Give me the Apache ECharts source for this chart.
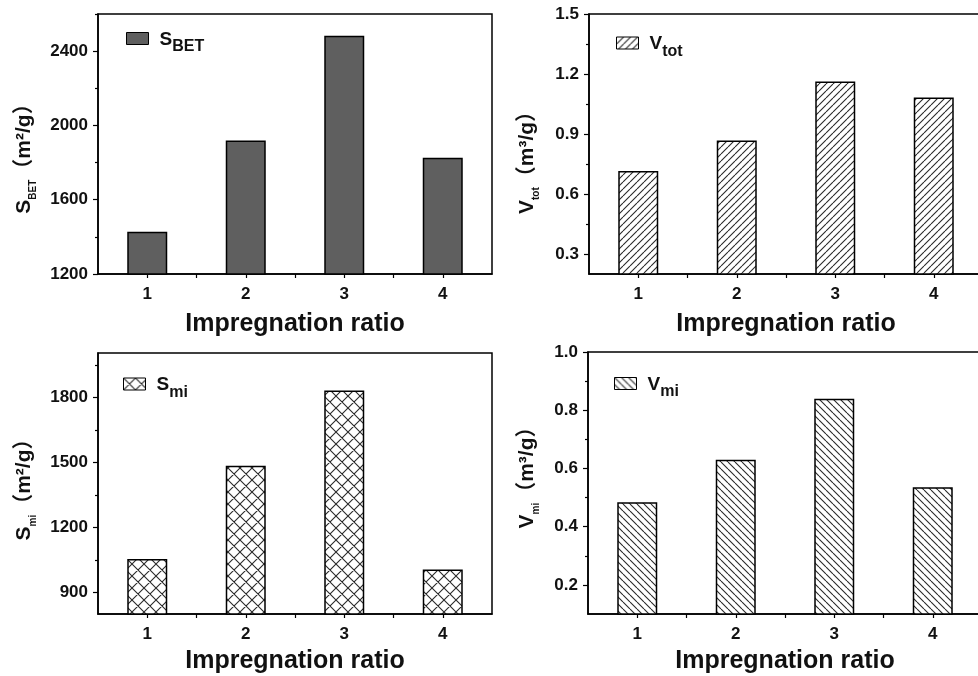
<!DOCTYPE html>
<html>
<head>
<meta charset="utf-8">
<script src="https://cdn.jsdelivr.net/npm/echarts@6/dist/echarts.min.js"></script>
<style>
  html, body { margin: 0; padding: 0; background: #fff; }
  #chart { width: 978px; height: 676px; }
</style>
</head>
<body>
<div id="chart"></div>
<script>
// impregnation ratios
const ratios = [1, 2, 3, 4];
const sBet = [1428, 1919, 2483, 1826];
const vTot = [0.715, 0.867, 1.163, 1.082];
const sMi = [1054, 1485, 1832, 1005];
const vMi = [0.484, 0.630, 0.839, 0.535];

const yLabels1 = [1200, 1600, 2000, 2400];
const yMinor1 = [1400, 1800, 2200, 2600];
const yLabels2 = [0.3, 0.6, 0.9, 1.2, 1.5];
const yMinor2 = [0.45, 0.75, 1.05, 1.35];
const yLabels3 = [900, 1200, 1500, 1800];
const yMinor3 = [1050, 1350, 1650, 1950];
const yLabels4 = [0.2, 0.4, 0.6, 0.8, 1.0];
const yMinor4 = [0.3, 0.5, 0.7, 0.9];

const FONT = '"Liberation Sans", Arial, "Noto Sans CJK SC", sans-serif';

// hatch fills
function makePattern(kind, size) {
  const c = document.createElement('canvas');
  c.width = size; c.height = size;
  const ctx = c.getContext('2d');
  ctx.fillStyle = '#fff';
  ctx.fillRect(0, 0, size, size);
  ctx.strokeStyle = '#2a2a2a';
  ctx.lineWidth = 1.1;
  ctx.beginPath();
  for (let k = -1; k <= 1; k++) {
    if (kind === '/' || kind === 'x') {
      ctx.moveTo(k * size, size);
      ctx.lineTo(k * size + size, 0);
    }
    if (kind === '\\' || kind === 'x') {
      ctx.moveTo(k * size, 0);
      ctx.lineTo(k * size + size, size);
    }
  }
  ctx.stroke();
  return { image: c, repeat: 'repeat' };
}

const grids = [
  { left: 98, top: 14, width: 394, height: 260 },
  { left: 589, top: 14, width: 394, height: 260 },
  { left: 98, top: 353, width: 394, height: 261 },
  { left: 588, top: 352, width: 394, height: 262 }
];

const panels = [
  { name: 'S_BET', main: 'S', sub: 'BET', unit: '（m²/g）', data: sBet, min: 1200, max: 2600, dec: 0,
    labels: yLabels1, minor: yMinor1, fill: '#5f5f5f', nameGap: 60, shift: 19 },
  { name: 'V_tot', main: 'V', sub: 'tot', unit: '（m³/g）', data: vTot, min: 0.2, max: 1.5, dec: 1,
    labels: yLabels2, minor: yMinor2, fill: makePattern('/', 7), nameGap: 48, shift: 27 },
  { name: 'S_mi', main: 'S', sub: 'mi', unit: '（m²/g）', data: sMi, min: 800, max: 2005, dec: 0,
    labels: yLabels3, minor: yMinor3, fill: makePattern('x', 12), nameGap: 60, shift: 2 },
  { name: 'V_mi', main: 'V', sub: 'mi', unit: '（m³/g）', data: vMi, min: 0.1, max: 1.0, dec: 1,
    labels: yLabels4, minor: yMinor4, fill: makePattern('\\', 7), nameGap: 47, shift: -21 }
];

// legend icon left edge / icon centre y
const legendPos = [
  { left: 126, cy: 38 },
  { left: 616, cy: 42.5 },
  { left: 123, cy: 383.5 },
  { left: 614, cy: 383 }
];
const xNameGap = [38, 38, 35, 35];

const xAxis = [], yAxis = [], series = [], legend = [];

panels.forEach((p, i) => {
  xAxis.push({
    type: 'value', gridIndex: i, min: 0.5, max: 4.5,
    name: 'Impregnation ratio', nameLocation: 'middle', nameGap: xNameGap[i],
    nameTextStyle: { fontFamily: FONT, fontWeight: 'bold', fontSize: 25, color: '#111' },
    axisLine: { show: true, lineStyle: { color: '#000', width: 1.5 } },
    axisTick: { show: true, length: 4, customValues: [1, 1.5, 2, 2.5, 3, 3.5, 4], lineStyle: { color: '#000', width: 1.2 } },
    axisLabel: { customValues: ratios, margin: 12, fontFamily: FONT, fontWeight: 'bold', fontSize: 17, color: '#111',
      formatter: v => String(v) },
    splitLine: { show: false }
  });
  // major axis with labels and name
  yAxis.push({
    type: 'value', gridIndex: i, min: p.min, max: p.max, position: 'left',
    name: '{a|' + p.main + '}{b|' + p.sub + '}{c|' + p.unit + '}',
    nameLocation: 'middle', nameGap: p.nameGap, nameRotate: 90,
    nameTextStyle: {
      padding: [0, p.shift, 0, 0],
      rich: {
        a: { fontFamily: FONT, fontWeight: 'bold', fontSize: 21, color: '#111', verticalAlign: 'top' },
        b: { fontFamily: FONT, fontWeight: 'bold', fontSize: 10, color: '#111', verticalAlign: 'bottom', padding: [14, 0, 0, 0] },
        c: { fontFamily: FONT, fontWeight: 'bold', fontSize: 21, color: '#111', verticalAlign: 'top' }
      }
    },
    axisLine: { show: true, lineStyle: { color: '#000', width: 1.5 } },
    axisTick: { show: true, length: 5, customValues: p.labels, lineStyle: { color: '#000', width: 1.2 } },
    axisLabel: { customValues: p.labels, margin: 10, fontFamily: FONT, fontWeight: 'bold', fontSize: 17, color: '#111',
      formatter: v => v.toFixed(p.dec) },
    splitLine: { show: false }
  });
  // minor ticks only
  yAxis.push({
    type: 'value', gridIndex: i, min: p.min, max: p.max, position: 'left', offset: 0,
    axisLine: { show: false },
    axisTick: { show: true, length: 3, customValues: p.minor, lineStyle: { color: '#000', width: 1.2 } },
    axisLabel: { show: false },
    splitLine: { show: false }
  });
  series.push({
    name: p.name, type: 'bar', xAxisIndex: i, yAxisIndex: i * 2,
    barWidth: 40,
    itemStyle: { color: p.fill, borderColor: '#000', borderWidth: 1.5 },
    data: ratios.map((r, k) => [r, p.data[k]])
  });
  legend.push({
    data: [p.name], left: legendPos[i].left, top: legendPos[i].cy - 8,
    padding: 0, icon: 'rect', itemWidth: 22, itemHeight: 12, itemGap: 0,
    itemStyle: { borderColor: '#000', borderWidth: 1 },
    formatter: () => '{a|' + p.main + '}{b|' + p.sub + '}',
    textStyle: {
      rich: {
        a: { fontFamily: FONT, fontWeight: 'bold', fontSize: 19, color: '#111', verticalAlign: 'top', padding: [8, 0, 0, 6] },
        b: { fontFamily: FONT, fontWeight: 'bold', fontSize: 16, color: '#111', verticalAlign: 'top', padding: [17, 0, 0, 0] }
      }
    }
  });
});

const chart = echarts.init(document.getElementById('chart'), null, { renderer: 'canvas' });
chart.setOption({
  animation: false,
  backgroundColor: '#fff',
  grid: grids.map(g => Object.assign({ show: true, borderColor: '#000', borderWidth: 1.5,
    backgroundColor: 'transparent', outerBoundsMode: 'none', containLabel: false }, g)),
  legend: legend,
  xAxis: xAxis,
  yAxis: yAxis,
  series: series
});
</script>
</body>
</html>
